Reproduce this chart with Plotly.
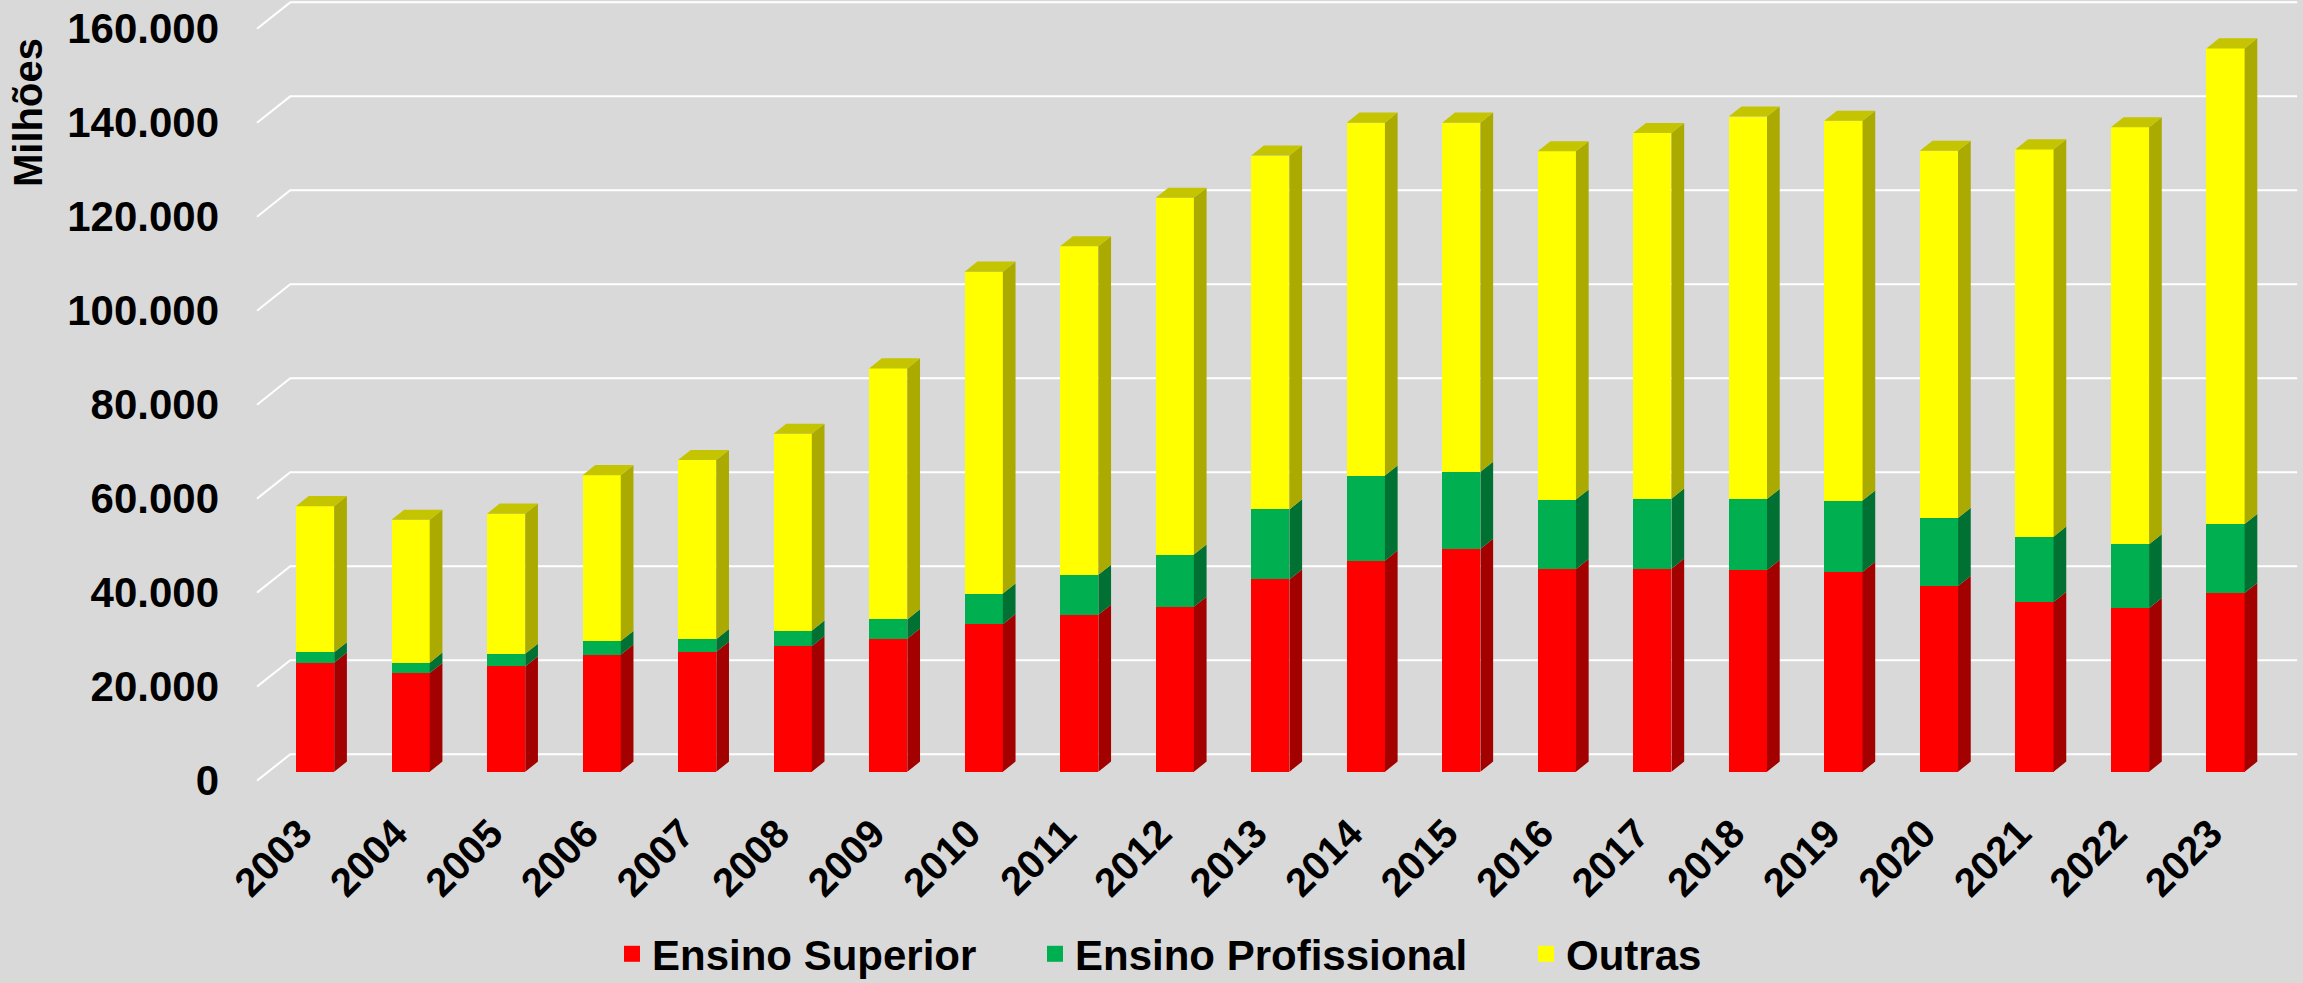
import plotly.graph_objects as go

# ---------------- data (Milhões) ----------------
years = [str(y) for y in range(2003, 2024)]
ensino_superior = [23200, 21000, 22400, 24900, 25500, 26700, 28300, 31400, 33400, 35100, 40900,
                   44900, 47400, 43100, 43200, 42900, 42500, 39500, 36100, 34800, 38000]
ensino_profissional = [2200, 2200, 2700, 2900, 2700, 3300, 4100, 6500, 8500, 11100, 14900,
                       18100, 16400, 14800, 14900, 15100, 15200, 14500, 13900, 13600, 14700]
outras = [31100, 30400, 29800, 35300, 38100, 41900, 53400, 68500, 69900, 75900, 75300,
          75100, 74300, 74100, 77800, 81400, 80800, 78100, 82400, 88700, 101200]
y_ticks = [0, 20000, 40000, 60000, 80000, 100000, 120000, 140000, 160000]
series_names = ["Ensino Superior", "Ensino Profissional", "Outras"]

# ---------------- style ----------------
W, H = 2303, 983
M_L, M_R, M_T, M_B = 253, 3, 0, 197
FONT = "Liberation Sans, Arial, sans-serif"
BG = "#D9D9D9"
FRONT = ["#FF0000", "#00B050", "#FFFF00"]
SIDE = ["#A30000", "#007033", "#AAAA00"]
TOP = "#C4C400"
BAR_W = 0.40
DEPTH_X = 0.133
DEPTH_Y = 2150
FRONT_OFF = -1900
BACK_OFF = 3700
GRID_X_FRONT = -0.608
GRID_X_BACK = -0.26
GRID_X_END = 20.75
X_RANGE = [-0.65, 20.78]
Y_RANGE = [-3040, 164200]
LEGEND_LEFT_PX = [612, 1035, 1526]
LEGEND_MID_PX = 954

x = list(range(len(years)))
series = [ensino_superior, ensino_profissional, outras]

fig = go.Figure()

# front faces
for name, vals, col in zip(series_names, series, FRONT):
    fig.add_trace(go.Bar(x=x, y=vals, name=name, width=BAR_W, marker=dict(color=col, line=dict(width=0)),
                         showlegend=False, hoverinfo="skip"))

# side faces (computed from stacked data)
base = [0] * len(x)
for vals, col in zip(series, SIDE):
    px, py = [], []
    for i in x:
        b, t = base[i], base[i] + vals[i]
        xr = i + BAR_W / 2
        px += [xr, xr + DEPTH_X, xr + DEPTH_X, xr, xr, None]
        py += [b, b + DEPTH_Y, t + DEPTH_Y, t, b, None]
    fig.add_trace(go.Scatter(x=px, y=py, mode="lines", fill="toself", fillcolor=col,
                             line=dict(width=0, color=col), showlegend=False, hoverinfo="skip"))
    base = [base[i] + vals[i] for i in x]

# top faces
px, py = [], []
for i in x:
    t = base[i]
    xl, xr = i - BAR_W / 2, i + BAR_W / 2
    px += [xl, xl + DEPTH_X, xr + DEPTH_X, xr, xl, None]
    py += [t, t + DEPTH_Y, t + DEPTH_Y, t, t, None]
fig.add_trace(go.Scatter(x=px, y=py, mode="lines", fill="toself", fillcolor=TOP,
                         line=dict(width=0, color=TOP), showlegend=False, hoverinfo="skip"))

# legend entries (one legend per entry to match spacing)
legend_ids = ["legend", "legend2", "legend3"]
for name, col, lid in zip(series_names, FRONT, legend_ids):
    fig.add_trace(go.Scatter(x=[None], y=[None], mode="markers", name=name, legend=lid,
                             marker=dict(symbol="square", size=22, color=col, line=dict(width=0))))

# 3D gridlines (back wall + left floor diagonal)
shapes = []
for t in y_ticks:
    shapes.append(dict(type="path", xref="x", yref="y", layer="below",
                       path=f"M {GRID_X_FRONT},{t + FRONT_OFF} L {GRID_X_BACK},{t + BACK_OFF} L {GRID_X_END},{t + BACK_OFF}",
                       line=dict(color="white", width=2)))

plot_w = W - M_L - M_R
plot_h = H - M_T - M_B

legend_font = dict(family=FONT, size=42, color="black", weight="bold")
legends = {}
for lid, lx in zip(legend_ids, LEGEND_LEFT_PX):
    legends[lid] = dict(orientation="h", xref="container", yref="container", x=lx / W,
                        y=1 - LEGEND_MID_PX / H, xanchor="left", yanchor="middle",
                        bgcolor="rgba(0,0,0,0)", font=legend_font, itemwidth=30)

fig.update_layout(
    width=W, height=H,
    margin=dict(l=M_L, r=M_R, t=M_T, b=M_B),
    paper_bgcolor=BG, plot_bgcolor=BG,
    barmode="stack",
    shapes=shapes,
    font=dict(family=FONT, size=42, color="black", weight="bold"),
    xaxis=dict(range=X_RANGE, tickmode="array", tickvals=x, ticktext=years, tickangle=-45,
               showgrid=False, zeroline=False, showline=False, ticks="",
               ticklabelshift=-15, ticklabelstandoff=15,
               tickfont=dict(family=FONT, size=40, color="black", weight="bold")),
    yaxis=dict(range=Y_RANGE, tickmode="array", tickvals=[t + FRONT_OFF for t in y_ticks],
               ticktext=[f"{t:,}".replace(",", ".") for t in y_ticks],
               showgrid=False, zeroline=False, showline=False, ticks="", ticklabelstandoff=33,
               tickfont=dict(family=FONT, size=42, color="black", weight="bold")),
    annotations=[dict(text="Milhões", textangle=-90, xref="paper", yref="paper",
                      x=(28 - M_L) / plot_w, y=1 - (113 - M_T) / plot_h,
                      xanchor="center", yanchor="middle", showarrow=False,
                      font=dict(family=FONT, size=40, color="black", weight="bold"))],
    **legends,
)

fig.write_html("out.html", config={"displayModeBar": False},
               post_script="document.body.style.margin='0';")
